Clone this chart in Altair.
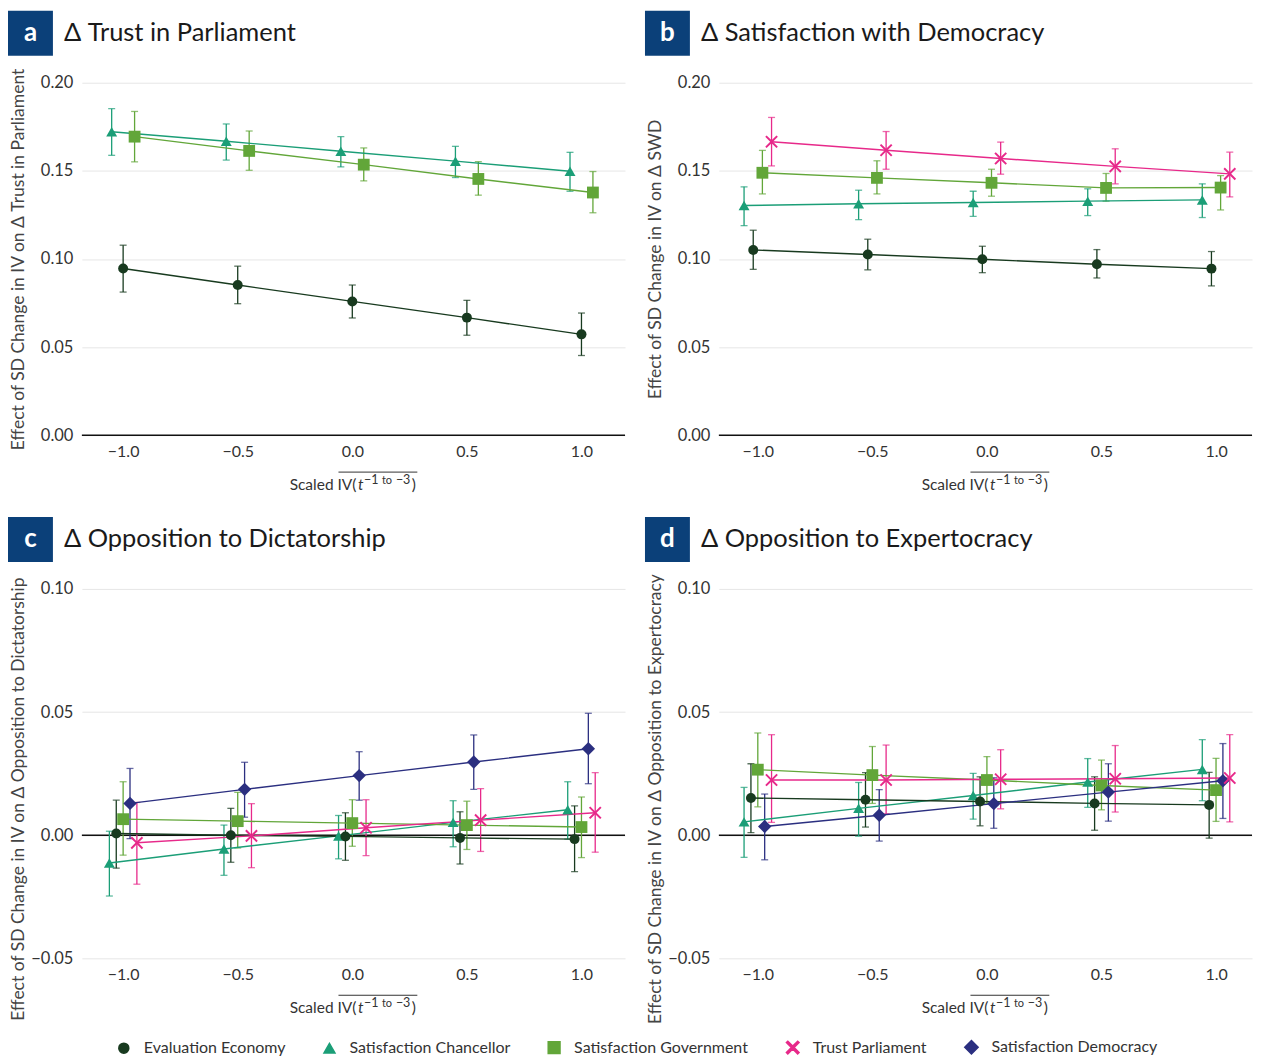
import altair as alt
import pandas as pd

# ---------------- data ----------------
X_VALUES = [-1.0, -0.5, 0.0, 0.5, 1.0]

SERIES = ["Evaluation Economy", "Satisfaction Chancellor", "Satisfaction Government",
          "Trust Parliament", "Satisfaction Democracy"]
SERIES_COLORS = ["#183a1f", "#1b9e77", "#62a639", "#e7298a", "#2b2f80"]
X_PATH = ("M-0.78,-1L0,-0.22L0.78,-1L1,-0.78L0.22,0L1,0.78L0.78,1L0,0.22"
          "L-0.78,1L-1,0.78L-0.22,0L-1,-0.78Z")
SERIES_SHAPES = ["circle", "triangle-up", "square", X_PATH, "diamond"]
SERIES_SIZES = [100, 180, 110, 140, 70]
DODGE_ORDER = ["Satisfaction Chancellor", "Evaluation Economy", "Satisfaction Government",
               "Satisfaction Democracy", "Trust Parliament"]

# panel a: Δ Trust in Parliament
TIP_ECON = [0.0946, 0.0852, 0.0759, 0.0667, 0.0572]
TIP_ECON_LO = [0.0812, 0.0746, 0.0665, 0.0567, 0.0452]
TIP_ECON_HI = [0.1078, 0.0959, 0.0852, 0.0765, 0.0693]
TIP_CHAN = [0.1722, 0.1668, 0.1611, 0.1555, 0.1498]
TIP_CHAN_LO = [0.1588, 0.1561, 0.1522, 0.1462, 0.1384]
TIP_CHAN_HI = [0.1853, 0.1766, 0.1694, 0.1639, 0.1605]
TIP_GOV = [0.1694, 0.1613, 0.1535, 0.1454, 0.1377]
TIP_GOV_LO = [0.1551, 0.1503, 0.1443, 0.1362, 0.1262]
TIP_GOV_HI = [0.1837, 0.1726, 0.1630, 0.1552, 0.1496]

# panel b: Δ Satisfaction with Democracy
SWD_ECON = [0.1051, 0.1025, 0.0998, 0.0970, 0.0945]
SWD_ECON_LO = [0.0941, 0.0938, 0.0922, 0.0892, 0.0847]
SWD_ECON_HI = [0.1163, 0.1112, 0.1072, 0.1053, 0.1042]
SWD_CHAN = [0.1303, 0.1313, 0.1320, 0.1328, 0.1335]
SWD_CHAN_LO = [0.1189, 0.1223, 0.1242, 0.1246, 0.1235]
SWD_CHAN_HI = [0.1409, 0.1390, 0.1384, 0.1398, 0.1426]
SWD_GOV = [0.1489, 0.1460, 0.1432, 0.1403, 0.1405]
SWD_GOV_LO = [0.1369, 0.1369, 0.1356, 0.1328, 0.1278]
SWD_GOV_HI = [0.1616, 0.1557, 0.1509, 0.1485, 0.1473]
SWD_PARL = [0.1665, 0.1617, 0.1570, 0.1525, 0.1483]
SWD_PARL_LO = [0.1528, 0.1509, 0.1481, 0.1426, 0.1352]
SWD_PARL_HI = [0.1803, 0.1723, 0.1663, 0.1625, 0.1606]

# panel c: Δ Opposition to Dictatorship
DIC_ECON = [0.0007, 0.0000, -0.0005, -0.0011, -0.0016]
DIC_ECON_LO = [-0.0134, -0.0110, -0.0102, -0.0117, -0.0148]
DIC_ECON_HI = [0.0142, 0.0109, 0.0091, 0.0095, 0.0119]
DIC_CHAN = [-0.0113, -0.0056, -0.0003, 0.0052, 0.0103]
DIC_CHAN_LO = [-0.0247, -0.0163, -0.0096, -0.0047, -0.0016]
DIC_CHAN_HI = [0.0016, 0.0041, 0.0080, 0.0140, 0.0217]
DIC_GOV = [0.0065, 0.0057, 0.0049, 0.0041, 0.0033]
DIC_GOV_LO = [-0.0081, -0.0052, -0.0045, -0.0058, -0.0091]
DIC_GOV_HI = [0.0217, 0.0174, 0.0144, 0.0138, 0.0155]
DIC_DEM = [0.0129, 0.0186, 0.0242, 0.0297, 0.0351]
DIC_DEM_LO = [-0.0014, 0.0073, 0.0142, 0.0186, 0.0209]
DIC_DEM_HI = [0.0271, 0.0296, 0.0339, 0.0407, 0.0495]
DIC_PARL = [-0.0031, -0.0003, 0.0030, 0.0061, 0.0091]
DIC_PARL_LO = [-0.0199, -0.0132, -0.0083, -0.0066, -0.0069]
DIC_PARL_HI = [0.0133, 0.0128, 0.0144, 0.0189, 0.0254]

# panel d: Δ Opposition to Expertocracy
EXP_ECON = [0.0151, 0.0144, 0.0137, 0.0129, 0.0123]
EXP_ECON_LO = [0.0010, 0.0033, 0.0038, 0.0020, -0.0012]
EXP_ECON_HI = [0.0290, 0.0254, 0.0237, 0.0237, 0.0255]
EXP_CHAN = [0.0054, 0.0109, 0.0161, 0.0216, 0.0267]
EXP_CHAN_LO = [-0.0090, -0.0004, 0.0065, 0.0113, 0.0140]
EXP_CHAN_HI = [0.0194, 0.0214, 0.0251, 0.0311, 0.0388]
EXP_GOV = [0.0266, 0.0244, 0.0224, 0.0202, 0.0183]
EXP_GOV_LO = [0.0115, 0.0129, 0.0129, 0.0103, 0.0056]
EXP_GOV_HI = [0.0415, 0.0360, 0.0319, 0.0305, 0.0312]
EXP_DEM = [0.0035, 0.0081, 0.0128, 0.0175, 0.0221]
EXP_DEM_LO = [-0.0100, -0.0024, 0.0028, 0.0057, 0.0068]
EXP_DEM_HI = [0.0167, 0.0185, 0.0233, 0.0290, 0.0372]
EXP_PARL = [0.0224, 0.0224, 0.0227, 0.0229, 0.0232]
EXP_PARL_LO = [0.0052, 0.0087, 0.0107, 0.0094, 0.0054]
EXP_PARL_HI = [0.0408, 0.0366, 0.0347, 0.0364, 0.0408]

Y_TICKS_TOP = [0.0, 0.05, 0.10, 0.15, 0.20]
Y_TICKS_BOTTOM = [-0.05, 0.0, 0.05, 0.10]

FONT = "Lato"
BOX_COLOR = "#0b4079"
ONE = pd.DataFrame({"k": [0]})

color_enc = alt.Color(
    "series:N",
    scale=alt.Scale(domain=SERIES, range=SERIES_COLORS),
    legend=alt.Legend(title=None, orient="none", legendX=34, legendY=958,
                      direction="horizontal", columns=5, labelFont=FONT,
                      labelFontSize=16, labelColor="#333", labelLimit=400,
                      symbolSize=90, symbolOpacity=1, columnPadding=34,
                      labelOffset=12, padding=0),
)
shape_enc = alt.Shape("series:N", scale=alt.Scale(domain=SERIES, range=SERIES_SHAPES))
size_enc = alt.Size("series:N", scale=alt.Scale(domain=SERIES, range=SERIES_SIZES), legend=None)


def build_panel(letter, title, ytitle, series_data, ydomain, yticks, dodge_w,
                width, height, xdomain, title_y=None):
    names = [s for s in DODGE_ORDER if s in series_data]
    n = len(names)
    rows = []
    for i, s in enumerate(names):
        off = -dodge_w / 2 + i * dodge_w / (n - 1)
        est, lo, hi = series_data[s]
        for xv, e, l, h in zip(X_VALUES, est, lo, hi):
            rows.append({"series": s, "xd": xv + off, "est": e, "lo": l, "hi": h})
    df = pd.DataFrame(rows)

    xs = alt.Scale(domain=xdomain, nice=False, zero=False)
    ys = alt.Scale(domain=ydomain, nice=False, zero=False)
    xaxis = alt.Axis(values=X_VALUES, format=".1f", title=None, grid=False, domain=False,
                     ticks=False, labelFont=FONT, labelFontSize=16, labelColor="#333",
                     labelPadding=8)
    yargs = dict(values=yticks, format=".2f", title=ytitle, grid=True, gridColor="#e6e6e6",
                 gridWidth=1, domain=False, ticks=False, labelFont=FONT, labelFontSize=16.5,
                 labelColor="#333", labelPadding=9, titleFont=FONT, titleFontSize=17.5,
                 titleFontWeight="normal", titleColor="#444", titleX=-54)
    if title_y is not None:
        yargs["titleY"] = title_y
    yaxis = alt.Axis(**yargs)

    X = alt.X("xd:Q", scale=xs, axis=xaxis)
    base = alt.Chart(df)

    zero = alt.Chart(pd.DataFrame({"est": [0.0]})).mark_rule(
        color="#111", strokeWidth=1.5).encode(y=alt.Y("est:Q", scale=ys, axis=yaxis))
    bars = base.mark_rule(strokeWidth=1.3).encode(
        x=X, y=alt.Y("lo:Q", scale=ys, axis=yaxis), y2="hi:Q", color=color_enc)
    cap_lo = base.mark_tick(orient="horizontal", size=7, thickness=1.3).encode(
        x=X, y=alt.Y("lo:Q", scale=ys, axis=yaxis), color=color_enc)
    cap_hi = base.mark_tick(orient="horizontal", size=7, thickness=1.3).encode(
        x=X, y=alt.Y("hi:Q", scale=ys, axis=yaxis), color=color_enc)
    lines = base.mark_line(strokeWidth=1.4).encode(
        x=X, y=alt.Y("est:Q", scale=ys, axis=yaxis), color=color_enc)
    points = base.mark_point(filled=True, opacity=1).encode(
        x=X, y=alt.Y("est:Q", scale=ys, axis=yaxis), color=color_enc,
        shape=shape_enc, size=size_enc)

    # panel letter box and heading
    box = alt.Chart(ONE).mark_rect(color=BOX_COLOR).encode(
        x=alt.value(-74), x2=alt.value(-29), y=alt.value(-72), y2=alt.value(-27))
    letter_txt = alt.Chart(ONE).mark_text(
        text=letter, font=FONT, fontSize=26, fontWeight="bold", color="white",
        align="center", baseline="middle").encode(x=alt.value(-51.5), y=alt.value(-50))
    head = alt.Chart(ONE).mark_text(
        text=title, font=FONT, fontSize=25.5, color="#1a1a1a", align="left",
        baseline="alphabetic").encode(x=alt.value(-18), y=alt.value(-42))

    # x axis title: Scaled overline{IV(t^{-1 to -3})}
    cx = width / 2 + 4
    by = height + 55

    def txt(s, dx, dy, size, style="normal", align="left"):
        return alt.Chart(ONE).mark_text(
            text=s, font=FONT, fontSize=size, fontStyle=style, color="#333",
            align=align, baseline="alphabetic").encode(
            x=alt.value(cx + dx), y=alt.value(by + dy))

    t1 = txt("Scaled IV(", -1, 0, 15.5, align="right")
    t2 = txt("t", 0.5, 0, 15.5, style="italic")
    t3 = txt("−1", 6.5, -6, 12.5)
    t4 = txt("to", 24.5, -6, 11)
    t5 = txt("−3", 38.5, -6, 12.5)
    t6 = txt(")", 54.5, 0, 15.5)
    over = alt.Chart(ONE).mark_rule(color="#333", strokeWidth=1).encode(
        x=alt.value(cx - 19), x2=alt.value(cx + 60), y=alt.value(height + 37))

    return alt.layer(zero, bars, cap_lo, cap_hi, lines, points, box, letter_txt, head,
                     t1, t2, t3, t4, t5, t6, over).properties(width=width, height=height)


panel_a = build_panel(
    "a", "Δ Trust in Parliament", "Effect of SD Change in IV on Δ Trust in Parliament",
    {"Evaluation Economy": (TIP_ECON, TIP_ECON_LO, TIP_ECON_HI),
     "Satisfaction Chancellor": (TIP_CHAN, TIP_CHAN_LO, TIP_CHAN_HI),
     "Satisfaction Government": (TIP_GOV, TIP_GOV_LO, TIP_GOV_HI)},
    [0.0, 0.2], Y_TICKS_TOP, 0.10, 544, 353, [-1.18, 1.19])

panel_b = build_panel(
    "b", "Δ Satisfaction with Democracy", "Effect of SD Change in IV on Δ SWD",
    {"Evaluation Economy": (SWD_ECON, SWD_ECON_LO, SWD_ECON_HI),
     "Satisfaction Chancellor": (SWD_CHAN, SWD_CHAN_LO, SWD_CHAN_HI),
     "Satisfaction Government": (SWD_GOV, SWD_GOV_LO, SWD_GOV_HI),
     "Trust Parliament": (SWD_PARL, SWD_PARL_LO, SWD_PARL_HI)},
    [0.0, 0.2], Y_TICKS_TOP, 0.12, 534, 353, [-1.17, 1.157])

panel_c = build_panel(
    "c", "Δ Opposition to Dictatorship",
    "Effect of SD Change in IV on Δ Opposition to Dictatorship",
    {"Evaluation Economy": (DIC_ECON, DIC_ECON_LO, DIC_ECON_HI),
     "Satisfaction Chancellor": (DIC_CHAN, DIC_CHAN_LO, DIC_CHAN_HI),
     "Satisfaction Government": (DIC_GOV, DIC_GOV_LO, DIC_GOV_HI),
     "Trust Parliament": (DIC_PARL, DIC_PARL_LO, DIC_PARL_HI),
     "Satisfaction Democracy": (DIC_DEM, DIC_DEM_LO, DIC_DEM_HI)},
    [-0.05, 0.10], Y_TICKS_BOTTOM, 0.12, 544, 370, [-1.18, 1.19], title_y=210)

panel_d = build_panel(
    "d", "Δ Opposition to Expertocracy",
    "Effect of SD Change in IV on Δ Opposition to Expertocracy",
    {"Evaluation Economy": (EXP_ECON, EXP_ECON_LO, EXP_ECON_HI),
     "Satisfaction Chancellor": (EXP_CHAN, EXP_CHAN_LO, EXP_CHAN_HI),
     "Satisfaction Government": (EXP_GOV, EXP_GOV_LO, EXP_GOV_HI),
     "Trust Parliament": (EXP_PARL, EXP_PARL_LO, EXP_PARL_HI),
     "Satisfaction Democracy": (EXP_DEM, EXP_DEM_LO, EXP_DEM_HI)},
    [-0.05, 0.10], Y_TICKS_BOTTOM, 0.12, 534, 370, [-1.17, 1.157], title_y=210)

chart = alt.vconcat(
    alt.hconcat(panel_a, panel_b, spacing=19),
    alt.hconcat(panel_c, panel_d, spacing=19),
    spacing=23,
).properties(
    padding={"left": 0, "top": 2, "right": 0, "bottom": 0}
).configure(font=FONT).configure_view(strokeWidth=0, stroke="transparent")

chart.save("out.html", embed_options={"renderer": "svg", "actions": False})
